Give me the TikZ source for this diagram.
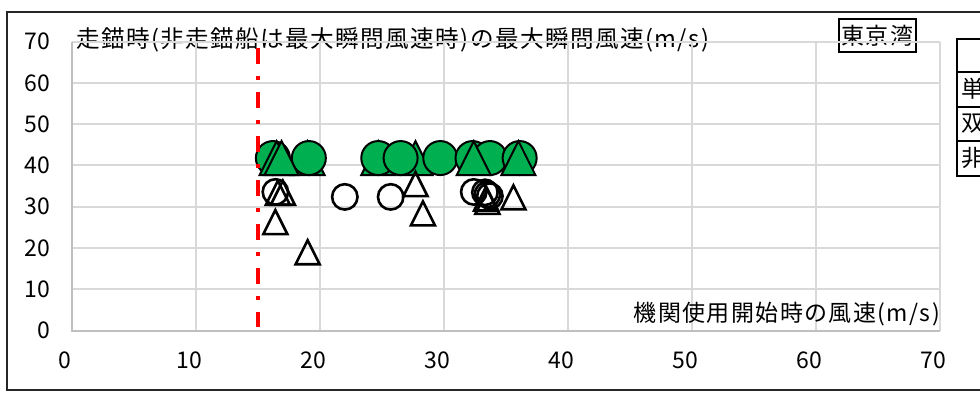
\documentclass[tikz,border=0pt]{standalone}
\usepackage{fontspec}
\setmainfont{Noto Sans CJK JP}
\newfontfamily\jpfont[LetterSpace=6]{Noto Sans CJK JP}
\definecolor{gridgray}{RGB}{217,217,217}
\definecolor{axisgray}{RGB}{191,191,191}
\definecolor{markgreen}{RGB}{0,176,80}
\tikzset{
    gridline/.style = {draw=gridgray, line width=2pt},
    axisline/.style = {draw=axisgray, line width=2pt},
    ticklabel/.style = {inner sep=0pt, font=\fontsize{23}{23}\selectfont},
    jplabel/.style = {inner sep=0pt, font=\jpfont\fontsize{23}{23}\selectfont},
    openmark/.style = {draw=black, line width=2.6pt},
    greenmark/.style = {draw=black, fill=markgreen, line width=2pt},
    limitline/.style = {draw=red, line width=3.3pt, dash pattern=on 16pt off 12pt on 4pt off 12pt},
}
% markers: style, x, y, size
\newcommand{\markcirc}[4]{\draw[#1] (#2,#3) circle[radius=#4];}
\newcommand{\marktri}[4]{\draw[#1, shift={(#2,#3)}] (-#4,-#4) -- (0pt,#4) -- (#4,-#4) -- cycle;}
\begin{document}
\begin{tikzpicture}[x=1pt, y=1pt]
    \useasboundingbox (0,0) rectangle (980,394);
    \clip (0,0) rectangle (980,394);
    \draw[line width=1.5pt, black!85] (7,4) rectangle (1010,382);
    % legend (cut at the right edge)
    \draw[line width=2pt] (956.7,355) rectangle (1010,218);
    \draw[line width=2pt] (956.7,322) -- (1010,322);
    \draw[line width=2pt] (956.7,287) -- (1010,287);
    \draw[line width=2pt] (956.7,253) -- (1010,253);
    \node[jplabel, anchor=west] (leg1) at (961,305) {単};
    \node[jplabel, anchor=west] (leg2) at (961,270) {双};
    \node[jplabel, anchor=west] (leg3) at (961,236) {非};
    \node[jplabel, draw, line width=1.5pt, minimum width=77pt, minimum height=33pt] (area) at (877.5,358.5) {東京湾};
    \node[jplabel, anchor=west, font=\jpfont\fontsize{23.6}{24}\selectfont] (title) at (76,354) {走錨時(非走錨船は最大瞬間風速時)の最大瞬間風速(m/s)};
    \begin{scope}[shift={(72pt,63.3pt)}, x=12.4pt, y=4.13pt]
        \foreach \v in {10,20,...,70} {
            \draw[gridline] (\v,0) -- (\v,70);
            \draw[gridline] (0,\v) -- (70,\v);
        }
        \draw[axisline] (0,70) -- (0,0) -- (70,0);
        \foreach \v in {0,10,...,70} {
            \node[ticklabel, anchor=east] (yt\v) at (-1.77,\v) {\v};
            \node[ticklabel] (xt\v) at (\v,0) [xshift=-7pt, yshift=-29.3pt] {\v};
        }
        \node[jplabel, anchor=east] (xtitle) at (70,4.0) {機関使用開始時の風速(m/s)};
        % green markers
        \foreach \mx in {19.0,24.7,27.7} {\marktri{greenmark}{\mx}{41.8}{17pt}}
        \foreach \mx in {16.2,19.1,24.7,26.5,29.7,32.3,33.7,36.1} {\markcirc{greenmark}{\mx}{41.8}{17pt}}
        \foreach \mx in {16.5,16.9,32.4,36.0} {\marktri{greenmark}{\mx}{41.8}{17pt}}
        % open markers
        \foreach \mx/\my in {16.4/33.6,22.0/32.4,25.7/32.4,32.4/33.6,33.3/33.5,33.5/33.0,33.7/32.6} {\markcirc{openmark}{\mx}{\my}{12.7pt}}
        \foreach \mx/\my in {16.6/33.4,17.0/33.4,16.4/26.3,19.0/19.0,27.7/35.5,28.3/28.4,33.4/32.0,33.5/31.2,35.6/32.3} {\marktri{openmark}{\mx}{\my}{12pt}}
        \draw[limitline] (15,68.45) -- (15,0.9);
    \end{scope}
\end{tikzpicture}
\end{document}
